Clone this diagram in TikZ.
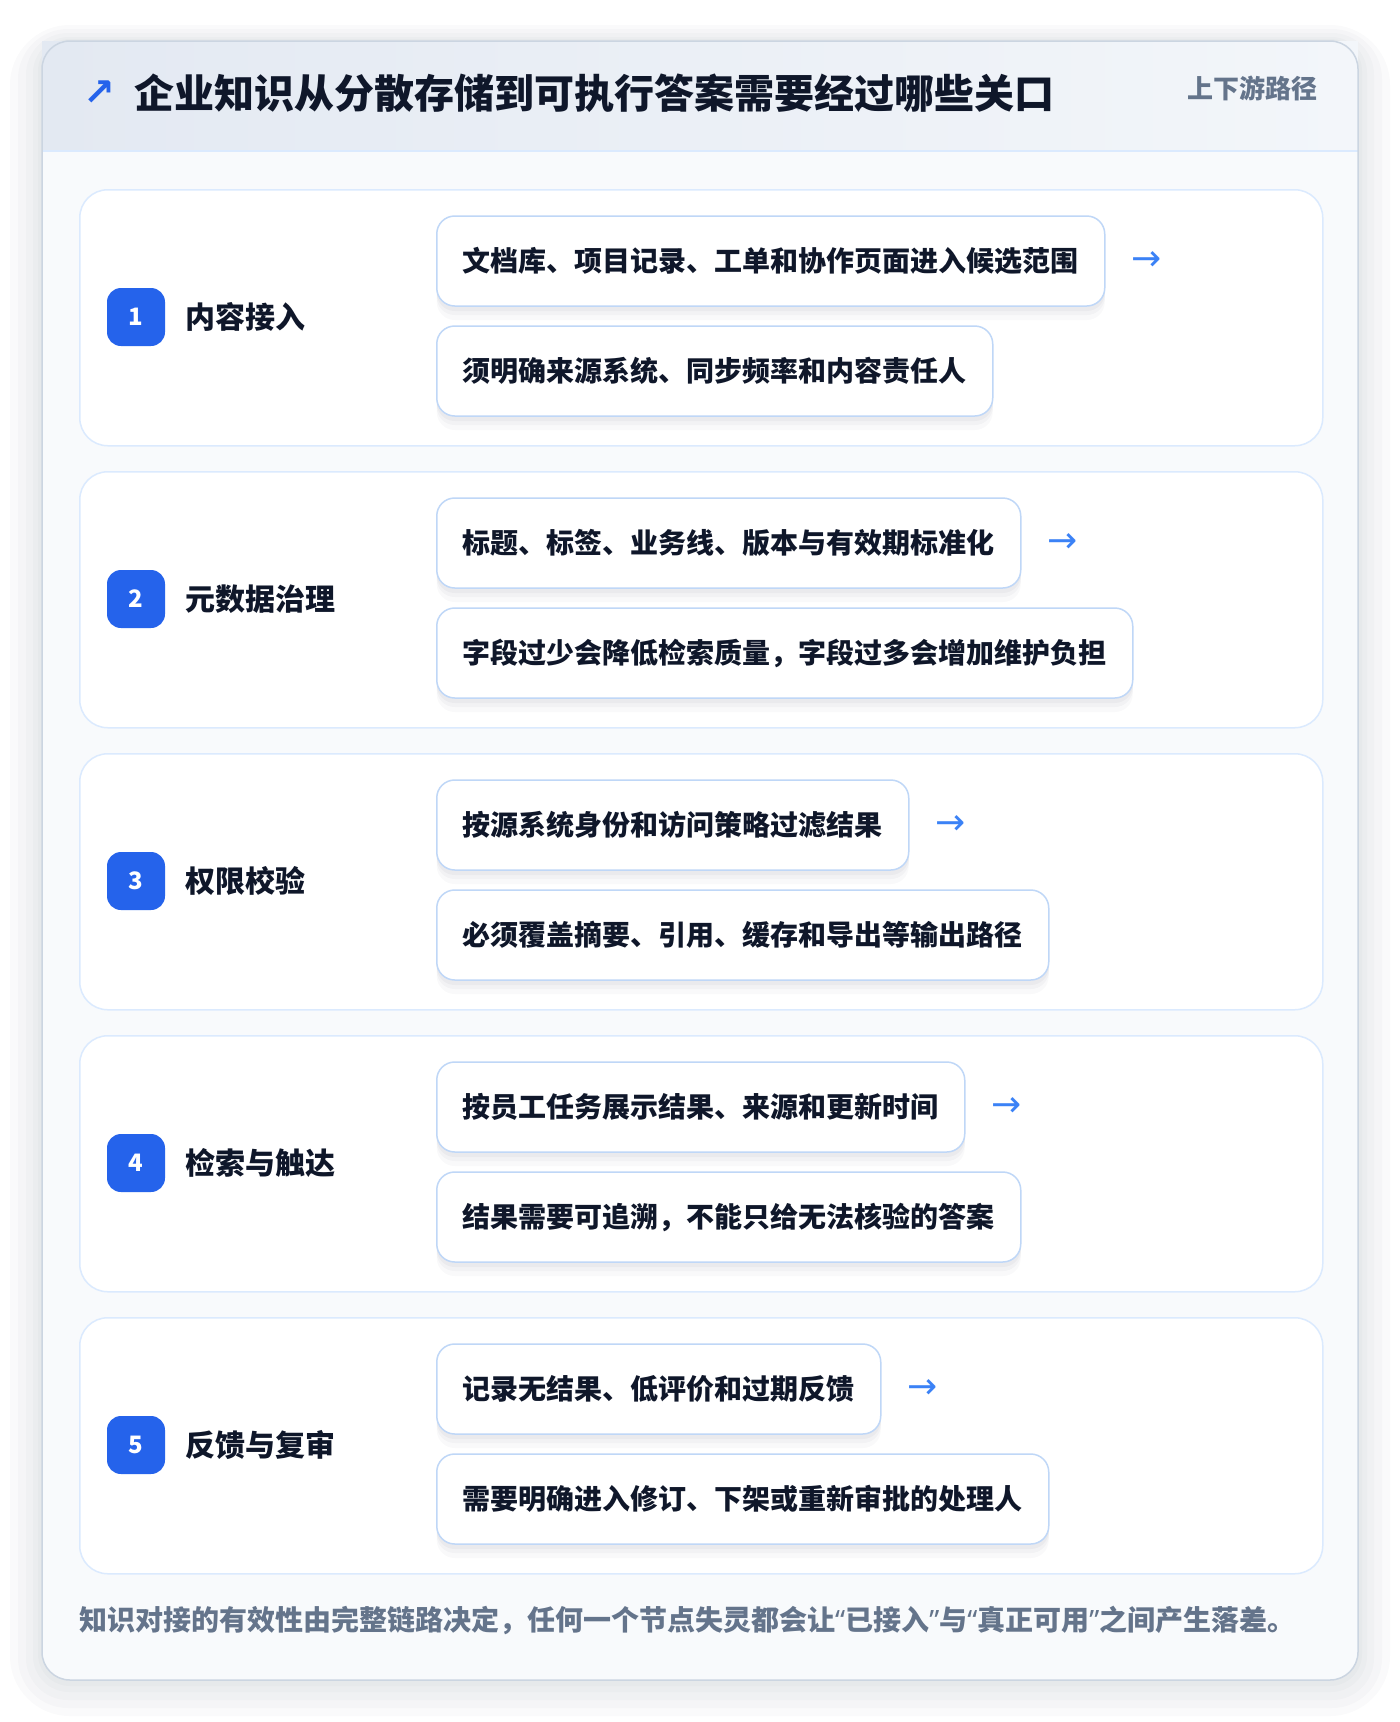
\documentclass[tikz,border=0pt]{standalone}
\usepackage{fontspec}
\setmainfont{Noto Sans CJK SC}
\newfontfamily\symfont{DejaVu Sans}
\newfontfamily\quotefont{Noto Sans}
\usetikzlibrary{positioning}

\definecolor{ink}{HTML}{0F172A}
\definecolor{muted}{HTML}{64748B}
\definecolor{brand}{HTML}{2563EB}
\definecolor{flowblue}{HTML}{3B82F6}
\definecolor{rowline}{HTML}{DBEAFE}
\definecolor{itemline}{HTML}{BFD7F7}
\definecolor{cardline}{HTML}{CBD5E1}
\definecolor{cardfill}{HTML}{F8FAFC}
\definecolor{headleft}{HTML}{E3E9F2}
\definecolor{headright}{HTML}{F3F6FA}
\definecolor{shade}{HTML}{1E293B}

\tikzstyle{rowbox} = [draw=rowline, line width=1.5pt, fill=white, rounded corners=28pt,
minimum width=1243pt, minimum height=256pt, anchor=north west, inner sep=0pt]
\tikzstyle{badge} = [fill=brand, rounded corners=14pt, minimum width=58pt, minimum height=58pt,
text=white, font=\fontsize{24}{24}\selectfont\bfseries, inner sep=0pt]
\tikzstyle{steplabel} = [text=ink, font=\fontsize{30}{30}\selectfont\bfseries, inner sep=0pt]
\tikzstyle{item} = [draw=itemline, line width=1.5pt, fill=white, rounded corners=18pt,
minimum height=90pt, inner xsep=26pt, text=ink, anchor=west,
font=\fontsize{28}{28}\selectfont\bfseries, text height=23pt, text depth=3pt,
preaction={fill=shade, fill opacity=0.025, transform canvas={yshift=-14pt}},
preaction={fill=shade, fill opacity=0.03, transform canvas={yshift=-9pt}},
preaction={fill=shade, fill opacity=0.035, transform canvas={yshift=-5pt}}]
\tikzstyle{flow} = [text=flowblue, font=\symfont\fontsize{36}{36}\selectfont, inner sep=0pt]
\tikzstyle{glow} = [fill=shade, fill opacity=0.018]
\newcommand{\q}[1]{{\quotefont #1}}

\begin{document}
\begin{tikzpicture}[x=1pt, y=1pt]

\fill[white] (0,0) rectangle (1400,-1722);
\useasboundingbox (0,0) rectangle (1400,-1722);

% card and its shadow
\fill[glow, rounded corners=60pt] (10,-25) rectangle (1390,-1716);
\fill[glow, rounded corners=50pt] (18,-29) rectangle (1382,-1708);
\fill[glow, rounded corners=42pt] (26,-33) rectangle (1374,-1700);
\fill[glow, rounded corners=36pt] (33,-37) rectangle (1367,-1692);
\fill[glow, rounded corners=32pt] (38,-39) rectangle (1362,-1686);
\fill[cardfill, rounded corners=28pt] (42,-41) rectangle (1358,-1680);
\shade[left color=headleft, right color=headright] (42,-41) rectangle (1358,-151);
\draw[rowline, line width=1.5pt] (42,-151) -- (1358,-151);
\draw[cardline, line width=1.5pt, rounded corners=28pt] (42,-41) rectangle (1358,-1680);

\node (icon) at (99,-93) [text=brand, font=\symfont\fontsize{38}{38}\selectfont\bfseries, inner sep=0pt] {↗};
\node (title) at (134,-93) [anchor=west, inner sep=0pt, text=ink, font=\fontsize{40}{40}\selectfont\bfseries] {企业知识从分散存储到可执行答案需要经过哪些关口};
\node (tag) at (1318,-88) [anchor=east, inner sep=0pt, text=muted, font=\fontsize{26}{26}\selectfont\bfseries] {上下游路径};

% 1
\node (row1) at (79,-189) [rowbox] {};
\node (b1) at (136,-317) [badge] {1};
\node (s1) [steplabel, right=20pt of b1] {内容接入};
\node (a1) at (436,-261) [item] {文档库、项目记录、工单和协作页面进入候选范围};
\node (c1) at (436,-371) [item] {须明确来源系统、同步频率和内容责任人};
\node (f1) [flow, right=26pt of a1] {→};

% 2
\node (row2) at (79,-471) [rowbox] {};
\node (b2) at (136,-599) [badge] {2};
\node (s2) [steplabel, right=20pt of b2] {元数据治理};
\node (a2) at (436,-543) [item] {标题、标签、业务线、版本与有效期标准化};
\node (c2) at (436,-653) [item] {字段过少会降低检索质量，字段过多会增加维护负担};
\node (f2) [flow, right=26pt of a2] {→};

% 3
\node (row3) at (79,-753) [rowbox] {};
\node (b3) at (136,-881) [badge] {3};
\node (s3) [steplabel, right=20pt of b3] {权限校验};
\node (a3) at (436,-825) [item] {按源系统身份和访问策略过滤结果};
\node (c3) at (436,-935) [item] {必须覆盖摘要、引用、缓存和导出等输出路径};
\node (f3) [flow, right=26pt of a3] {→};

% 4
\node (row4) at (79,-1035) [rowbox] {};
\node (b4) at (136,-1163) [badge] {4};
\node (s4) [steplabel, right=20pt of b4] {检索与触达};
\node (a4) at (436,-1107) [item] {按员工任务展示结果、来源和更新时间};
\node (c4) at (436,-1217) [item] {结果需要可追溯，不能只给无法核验的答案};
\node (f4) [flow, right=26pt of a4] {→};

% 5
\node (row5) at (79,-1317) [rowbox] {};
\node (b5) at (136,-1445) [badge] {5};
\node (s5) [steplabel, right=20pt of b5] {反馈与复审};
\node (a5) at (436,-1389) [item] {记录无结果、低评价和过期反馈};
\node (c5) at (436,-1499) [item] {需要明确进入修订、下架或重新审批的处理人};
\node (f5) [flow, right=26pt of a5] {→};

\node (note) at (79,-1620) [anchor=west, inner sep=0pt, text=muted, font=\fontsize{28}{28}\selectfont\bfseries] {知识对接的有效性由完整链路决定，任何一个节点失灵都会让\q{“}已接入\q{”}与\q{“}真正可用\q{”}之间产生落差。};

\end{tikzpicture}
\end{document}
